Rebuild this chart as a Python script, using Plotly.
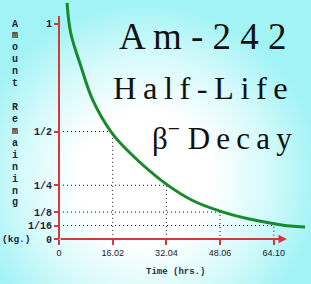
import base64
import plotly.graph_objects as go

# ---------------- data ----------------
curve_t = [2.4, 3.5, 6.6, 10.05, 15.7, 21.2, 31.6, 40.0, 48.0, 56.1, 63.8, 69.0, 73.4]
curve_v = [1.098, 0.958, 0.80, 0.647, 0.495, 0.40, 0.26, 0.178, 0.13, 0.095, 0.072, 0.060, 0.056]

half_times = [16.02, 32.04, 48.06, 64.10]
half_values = [0.5, 0.25, 0.125, 0.0625]

x_tickvals = [0, 16.02, 32.04, 48.06, 64.10]
x_ticktext = ["0", "16.02", "32.04", "48.06", "64.10"]
y_tickvals = [0, 0.0625, 0.125, 0.25, 0.5, 1]
y_ticktext = ["0", "1/16", "1/8", "1/4", "1/2", "1"]

x_axis_end = 68.0
y_axis_end = 1.037

X_RANGE = [-17.6, 75.18]
Y_RANGE = [-0.2093, 1.1116]

RED = "#d03a3a"
GREEN = "#178a2c"
DARK = "#1c2440"

# ---------------- background ----------------
svg = (
    "<svg xmlns='http://www.w3.org/2000/svg' width='311' height='284'>"
    "<defs><radialGradient id='g' cx='145' cy='178' r='175' gradientUnits='userSpaceOnUse'>"
    "<stop offset='0' stop-color='#ffffff'/>"
    "<stop offset='0.38' stop-color='#ffffff'/>"
    "<stop offset='0.7' stop-color='#d6fafb'/>"
    "<stop offset='1' stop-color='#a2f3f6'/>"
    "</radialGradient></defs>"
    "<rect width='311' height='284' fill='url(#g)'/></svg>"
)
bg_uri = "data:image/svg+xml;base64," + base64.b64encode(svg.encode()).decode()

fig = go.Figure()

# dotted guides
for t, v in zip(half_times, half_values):
    fig.add_trace(go.Scatter(
        x=[0, t, t], y=[v, v, 0], mode="lines",
        line=dict(color="#111111", width=1, dash="1px,3px"),
        hoverinfo="skip", showlegend=False))

# decay curve
fig.add_trace(go.Scatter(
    x=curve_t, y=curve_v, mode="lines",
    line=dict(color=GREEN, width=3, shape="spline", smoothing=1.0),
    showlegend=False))

# y axis line
fig.add_trace(go.Scatter(
    x=[0, 0], y=[0, y_axis_end], mode="lines",
    line=dict(color=RED, width=2), showlegend=False, hoverinfo="skip"))

# x axis line with arrow
fig.add_annotation(
    x=x_axis_end, y=0, ax=0, ay=0, xref="x", yref="y", axref="x", ayref="y",
    text="", showarrow=True, arrowhead=2, arrowsize=0.85, arrowwidth=2,
    arrowcolor=RED, standoff=0, startstandoff=0)

xpos = (0 - Y_RANGE[0]) / (Y_RANGE[1] - Y_RANGE[0])
ypos = (0 - X_RANGE[0]) / (X_RANGE[1] - X_RANGE[0])

fig.update_layout(
    width=311, height=284,
    margin=dict(l=0, r=0, t=0, b=0),
    paper_bgcolor="#a2f3f6",
    plot_bgcolor="rgba(0,0,0,0)",
    images=[dict(source=bg_uri, xref="paper", yref="paper", x=0, y=1,
                 sizex=1, sizey=1, sizing="stretch", layer="below",
                 xanchor="left", yanchor="top")],
    xaxis=dict(range=X_RANGE, domain=[0, 1], anchor="free", position=xpos,
               tickvals=x_tickvals, ticktext=x_ticktext, ticks="outside",
               ticklen=5, tickwidth=2, tickcolor=RED, showgrid=False,
               zeroline=False, showline=False,
               tickfont=dict(family="Liberation Sans", size=9, color="#1a1a1a")),
    yaxis=dict(range=Y_RANGE, domain=[0, 1], anchor="free", position=ypos,
               tickvals=y_tickvals, ticktext=y_ticktext, ticks="outside",
               ticklen=5, tickwidth=2, tickcolor=RED, showgrid=False,
               zeroline=False, showline=False,
               tickfont=dict(family="Liberation Mono", size=10, color=DARK, weight="bold")),
)

def px_x(p):
    return p / 311.0

def px_y(p):
    return 1 - p / 284.0

SERIF = "Times New Roman"
THIN = "\u2009"
fig.add_annotation(xref="paper", yref="paper", x=px_x(203), y=px_y(36),
                   text=" ".join("Am-242"),
                   showarrow=False, xanchor="center", yanchor="middle",
                   font=dict(family=SERIF, size=37, color="#111111"))
fig.add_annotation(xref="paper", yref="paper", x=px_x(200), y=px_y(88),
                   text=THIN.join("Half-Life"),
                   showarrow=False, xanchor="center", yanchor="middle",
                   font=dict(family=SERIF, size=32.5, color="#111111"))
fig.add_annotation(xref="paper", yref="paper", x=px_x(222), y=px_y(136),
                   text="β<sup>−</sup> " + THIN.join("Decay"),
                   showarrow=False, xanchor="center", yanchor="middle",
                   font=dict(family=SERIF, size=31, color="#111111"))

# y axis title (stacked letters)
ytitle_letters = list("Amount") + [""] + list("Remaining")
for i, ch in enumerate(ytitle_letters):
    if ch:
        fig.add_annotation(xref="paper", yref="paper", x=px_x(15), y=px_y(24 + i * 11.93),
                           text=ch, showarrow=False, xanchor="center", yanchor="middle",
                           font=dict(family="Liberation Mono", size=10, color=DARK, weight="bold"))
fig.add_annotation(xref="paper", yref="paper", x=px_x(16), y=px_y(239),
                   text="(kg.)", showarrow=False, xanchor="center", yanchor="middle",
                   font=dict(family="Liberation Mono", size=9.5, color=DARK, weight="bold"))
fig.add_annotation(xref="paper", yref="paper", x=px_x(175), y=px_y(272),
                   text="Time (hrs.)", showarrow=False, xanchor="center", yanchor="middle",
                   font=dict(family="Liberation Mono", size=9, color="#22324a", weight="bold"))

fig.write_html("out.html")
